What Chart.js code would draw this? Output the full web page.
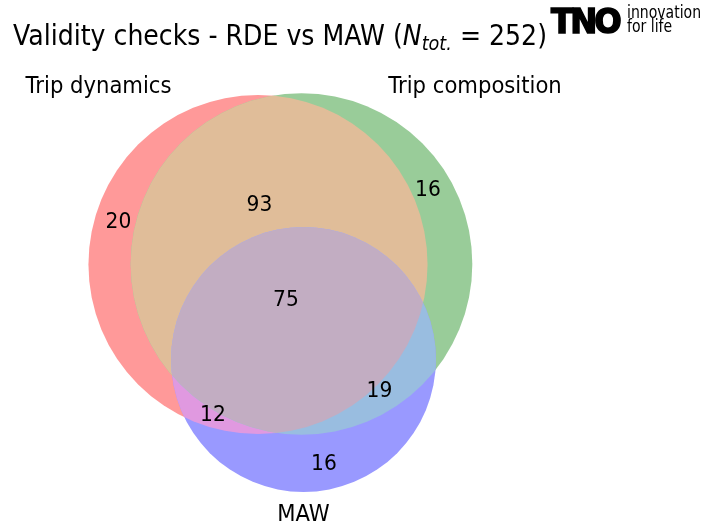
<!DOCTYPE html>
<html><head><meta charset="utf-8">
<script src="https://cdn.jsdelivr.net/npm/chart.js@4/dist/chart.umd.min.js"></script>
<style>
html,body{margin:0;padding:0;background:#fff;}
#wrap{position:relative;width:706px;height:527px;overflow:hidden;}
#c{position:absolute;left:0;top:0;}
.t{position:absolute;white-space:nowrap;font-family:"DejaVu Sans";color:#000;transform-origin:0 0;}
#title{left:13px;top:22px;font-size:28px;line-height:1;transform:scaleX(0.9);}
#title sub{font-size:0.7em;vertical-align:-0.28em;line-height:0;}
#tno{left:551px;top:4px;font-size:34px;font-weight:bold;letter-spacing:-3px;line-height:1;transform:scaleX(0.95);-webkit-text-stroke:1.6px #000;}
#tag{left:627px;top:5px;font-size:18px;line-height:14px;transform:scaleX(0.78);}
</style></head>
<body><div id="wrap">
<canvas id="c" width="706" height="527"></canvas>
<div class="t" id="title">Validity checks - RDE vs MAW (<i>N</i><sub><i>tot.</i></sub> = 252)</div>
<div class="t" id="tno">TNO</div>
<div class="t" id="tag">innovation<br>for life</div>
</div>
<script>
// ---- data ----
const setNames = ['Trip dynamics', 'Trip composition', 'MAW'];
// region order: A only, B only, AB, C only, AC, BC, ABC
const regionKeys = ['100', '010', '110', '001', '101', '011', '111'];
const regionCounts = [20, 16, 93, 16, 12, 19, 75];

// ---- layout (venn geometry in plot units) ----
const circleCenters = [[258, 264.5], [301.5, 264], [303.5, 359.5]];
const radiusPerSqrt = 11.99;
const regionLabelPos = {
  '100': [118.5, 222], '010': [428, 190], '110': [259.5, 205],
  '001': [324, 464], '101': [213, 415], '011': [379.5, 391], '111': [286, 300]
};
const setLabelPos = [[98.5, 87], [475, 87], [303.5, 515]];
const regionColors = {
  '100': '#ff9999', '010': '#99cc99', '001': '#9999ff',
  '110': '#e0bd99', '101': '#e099e0', '011': '#99bde0', '111': '#c2adc2'
};

const setSizes = [0, 1, 2].map(i =>
  regionKeys.reduce((s, k, j) => s + (k[i] === '1' ? regionCounts[j] : 0), 0));

const circlePoints = circleCenters.map(c => ({x: c[0], y: c[1]}));

const vennPlugin = {
  id: 'venn',
  afterDatasetsDraw(chart) {
    const ctx = chart.ctx;
    const els = chart.getDatasetMeta(0).data;
    const circ = els.map(e => ({x: e.x, y: e.y, r: e.options.radius}));
    ['110', '101', '011', '111'].forEach(key => {
      ctx.save();
      for (let i = 0; i < 3; i++) {
        if (key[i] === '1') {
          ctx.beginPath();
          ctx.arc(circ[i].x, circ[i].y, circ[i].r, 0, Math.PI * 2);
          ctx.clip();
        }
      }
      ctx.fillStyle = regionColors[key];
      ctx.fillRect(0, 0, chart.width, chart.height);
      ctx.restore();
    });
    const xs = chart.scales.x, ys = chart.scales.y;
    const drawText = (txt, pos, size) => {
      ctx.save();
      ctx.translate(xs.getPixelForValue(pos[0]), ys.getPixelForValue(pos[1]));
      ctx.scale(0.92, 1);
      ctx.font = size + 'px "DejaVu Sans"';
      ctx.fillStyle = '#000';
      ctx.textAlign = 'center';
      ctx.textBaseline = 'middle';
      ctx.fillText(txt, 0, 0);
      ctx.restore();
    };
    regionKeys.forEach((k, j) => drawText(String(regionCounts[j]), regionLabelPos[k], 22));
    setNames.forEach((n, i) => drawText(n, setLabelPos[i], 23));
  }
};

const radiusFn = ctx => {
  const s = ctx.chart.scales.x;
  const r = radiusPerSqrt * Math.sqrt(setSizes[ctx.dataIndex]);
  return s.getPixelForValue(r) - s.getPixelForValue(0);
};

new Chart(document.getElementById('c'), {
  type: 'scatter',
  data: {
    datasets: [{
      data: circlePoints,
      backgroundColor: [regionColors['100'], regionColors['010'], regionColors['001']],
      borderWidth: 0,
      pointRadius: radiusFn,
      pointHoverRadius: radiusFn
    }]
  },
  options: {
    responsive: false,
    animation: false,
    events: [],
    layout: {padding: 0},
    scales: {
      x: {type: 'linear', min: 0, max: 706, display: false},
      y: {type: 'linear', min: 0, max: 527, reverse: true, display: false}
    },
    plugins: {legend: {display: false}, tooltip: {enabled: false}, title: {display: false}}
  },
  plugins: [vennPlugin]
});
</script>
</body></html>
